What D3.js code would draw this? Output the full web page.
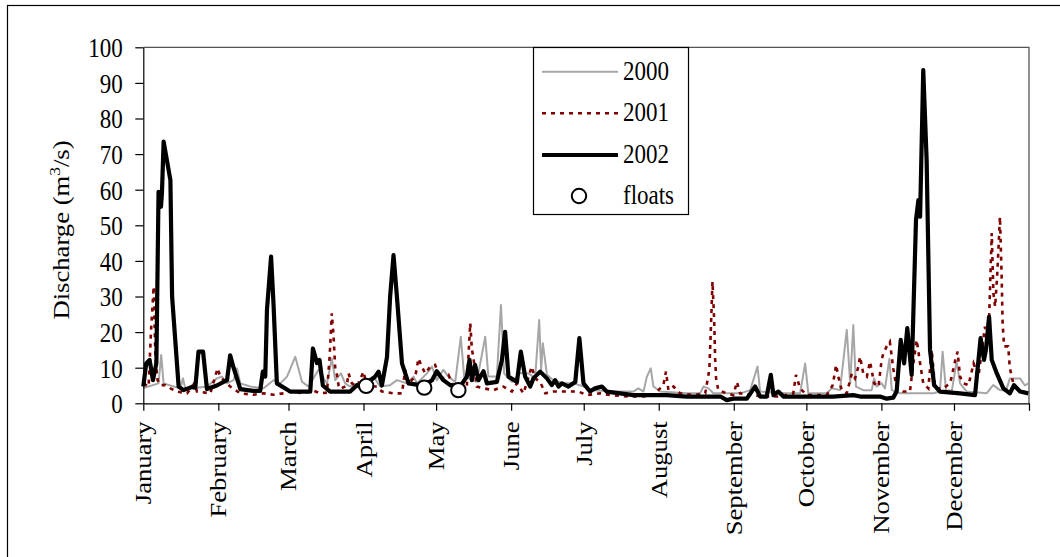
<!DOCTYPE html>
<html><head><meta charset="utf-8">
<script src="https://cdn.jsdelivr.net/npm/d3@7"></script>
<style>
html,body{margin:0;padding:0;background:#fff;}
svg{display:block;}
text{font-family:"Liberation Serif","Times New Roman",serif;fill:#000;}
</style></head>
<body>
<svg id="chart" width="1060" height="557"></svg>
<script>
// ---- data (day of year, value in m3/s) ----
const months = ["January","February","March","April","May","June","July","August","September","October","November","December"];
const monthStartDays = [0,31,60,91,121,152,182,213,244,274,305,335];
const yearEndDay = 366;
const yTicks = [0,10,20,30,40,50,60,70,80,90,100];
const seriesNames = ["2000","2001","2002","floats"];

const q2000 = [[0.1,4.3],[6.3,5.6],[7.4,13.6],[8.4,5.6],[12.5,4.7],[15.3,4.2],[16.4,7],[17.3,4.2],[20.8,4.2],[26.3,4.7],[30.4,7],[32.5,7.5],[34.6,5.6],[37.3,6.5],[38.7,9.8],[40.1,5.6],[44.2,4.7],[49.7,4.2],[53.8,6.5],[56.6,5.6],[59.4,7.5],[62.8,13.1],[65.6,6],[68.3,4.7],[72.4,9.4],[74.5,7],[75.9,5.6],[77.9,12.6],[79.3,6.5],[81.7,8.4],[83.4,5.6],[85.5,4.7],[91,6],[95.1,7.5],[97.9,4.7],[102,5.1],[104.8,6.5],[108.9,5.6],[111.7,7.5],[113.1,5.6],[117.2,8.4],[119.3,10.3],[121.3,6.5],[124,9.4],[126.1,7.5],[128.9,6],[131.2,18.7],[132.6,7.5],[137.8,6],[141.3,18.7],[142.6,7.5],[146.1,7.5],[147.8,27.6],[149.1,8.4],[152.3,6],[155.7,8.5],[159.2,8.4],[161.9,7],[163.6,23.4],[164.4,9.4],[165.1,16.9],[166.8,8],[169.5,6.5],[173.6,5.6],[177.8,5.6],[181.9,4.7],[186,3.7],[194.3,3.3],[202.5,3.3],[204.6,4.2],[206.7,3.3],[208.1,7.5],[209.7,9.8],[210.8,4.7],[213.6,3.3],[224.6,2.8],[230.1,2.8],[231.5,4.7],[233.5,4.2],[235.6,2.8],[246.7,2.8],[250.8,3.7],[253.8,10.3],[254.9,3.3],[265.9,2.8],[271.4,2.8],[273.5,11.2],[274.8,2.8],[282.4,2.8],[284.5,4.2],[287.9,3.7],[290.7,20.6],[292.1,5.6],[293.4,22],[294.5,4.7],[297.5,3.7],[301,3.7],[302,7],[303,4.7],[305.1,5.6],[306.5,4.2],[308.3,12.5],[309.3,3.7],[312.7,2.8],[318.2,2.8],[326.5,2.8],[329.2,3.3],[330.3,14.5],[331.7,3.7],[334.1,3.5],[336.1,11.7],[337.5,5.6],[340.3,3.3],[348.5,2.8],[351.2,5.1],[354,3.7],[356.5,3.5],[358.1,7],[362.3,7],[364.3,5],[365.7,5.6]];

const q2001 = [[0.1,5.6],[2.2,4.7],[3.2,20.6],[4.3,32.8],[5,12.6],[5.9,6.5],[7,5.1],[9.1,5.1],[11.2,4.2],[13.9,3.3],[18.1,2.8],[21.1,5.6],[22.2,3.3],[27.7,2.8],[30.7,9.8],[31.8,7.5],[33.9,6],[35.9,4.7],[40.1,2.8],[45.6,2.4],[49.7,2.8],[53.8,2.4],[58,2.8],[60.7,3.3],[66.2,2.8],[69.7,3.7],[73.1,2.8],[75.9,3],[77,13.1],[77.9,25.3],[78.6,19],[79.3,10],[80,8],[80.7,5],[81.4,4],[84.1,5],[84.8,8.4],[86.2,5.6],[88.3,4.7],[91,8.9],[92.4,4.7],[96.5,4.7],[98.6,3.3],[103.4,2.8],[106.9,2.8],[108.2,9.4],[109.6,5.6],[112.4,7.5],[113.7,12.6],[115.1,10.3],[116.5,8.4],[118.6,10.3],[120.6,10.8],[122.7,6.5],[126.1,8],[128.2,4.7],[133.7,4.7],[135.1,22.5],[135.8,15],[136.4,13],[137.8,4.7],[140.6,4.2],[144.7,3.7],[148.8,4.7],[152.3,3.3],[154.4,5.6],[157.1,2.8],[160.5,10.3],[161.9,7],[164,6],[166.1,2.8],[169.5,3.3],[175,3.3],[179.8,3.3],[183.3,2.3],[188.8,2.8],[192.9,2.3],[201.2,1.9],[206.7,1.9],[210.8,2.3],[214.9,5.1],[216,8.9],[217,3.7],[219.1,4.7],[221.8,2.8],[227.3,2.3],[232.2,2.8],[233.9,9.4],[234.5,20.1],[235.2,34.2],[235.9,23.4],[236.3,12.6],[236.7,7],[237.6,3.7],[241.1,2.8],[243.8,2.3],[245.3,6],[246.6,2.8],[250.8,2.3],[257.6,1.9],[263.1,1.9],[268.6,2.8],[269.7,8],[271.4,4.2],[274.2,2.3],[282.4,2.3],[284.9,5.1],[286.3,10.8],[287.2,7.5],[288.6,3.7],[290.7,2.8],[292.8,8.4],[294.1,7],[295.5,10.3],[296.2,13.1],[297.5,8.4],[299,7.5],[300.3,11.7],[302,5.6],[303.8,4.7],[305.1,12.2],[305.8,14],[307.2,16],[308.5,17.3],[309.9,9.8],[311.3,4.2],[314,3.3],[316.8,3.3],[318.2,11.2],[319.6,17.8],[321,11.2],[322.3,5.6],[324.4,4.2],[325.8,15],[327.2,4.2],[330.6,4.2],[333.4,5.6],[335.4,11.7],[336.5,14.5],[337.5,7.5],[338.9,5.6],[341,5.1],[343.1,11.2],[345.1,7.5],[347.8,21.5],[349.2,16.8],[350.6,47.8],[351.3,30.9],[352,27.1],[352.9,36.5],[354,52.4],[354.7,35.6],[355.1,22.5],[355.7,16],[357.4,16],[358.1,9.8],[359.5,5.6],[362.3,3.3],[365.7,3]];

const q2002 = [[0,4.7],[1.2,11.2],[2.6,12.2],[4,6.5],[5.4,11.3],[6.3,59.4],[7.3,55.2],[7.7,59],[8.4,73.5],[11.2,62.7],[11.9,30],[14.6,4.7],[16.6,3.7],[20.1,4.6],[21.5,4.4],[22.8,14.5],[24.7,14.5],[26.3,4],[30.4,5],[34.6,6.5],[35.9,13.5],[37.3,10],[40.1,4],[45.4,3.5],[48.3,3.5],[49.4,8.9],[50.4,7.5],[51.1,26.2],[52.8,41.2],[53.8,28],[55.2,5.6],[60.7,3.3],[69,3.3],[70.1,15.4],[71.8,11.3],[72.8,12.2],[74.2,5],[77.2,3.3],[85.5,3.3],[88.3,5.1],[90.3,4.4],[95.8,7.5],[97.2,8.9],[98.6,5],[100.7,13],[102,30],[103.4,41.6],[104.8,30],[106.9,11.2],[109.6,5.6],[114.4,5.1],[117.2,5.6],[119.3,6.5],[121.3,9],[124,6.5],[126.8,5.1],[131,4.8],[133.7,7.5],[134.8,12.2],[135.8,6.5],[137.1,10.8],[138.5,6.5],[140.6,9],[142,5.6],[146.1,6],[148.2,12.2],[149.5,20.1],[150.9,7.5],[154.4,6],[156,14.5],[157.8,7.5],[159.9,4.7],[161.2,7],[164,8.9],[166.8,7],[168.8,5.1],[170.2,6.5],[171.6,4.7],[173,5.6],[175.7,4.7],[178.5,6],[180.2,18.3],[181.9,5.6],[184.6,3.3],[186.7,4.2],[189.5,4.7],[191.5,3.3],[197,2.8],[202.5,2.3],[210.8,2.3],[216.3,2.3],[224.6,1.9],[238.5,1.9],[241.1,0.9],[243.8,1.3],[246.7,1.3],[249.4,1.3],[252.8,4.7],[254.9,1.9],[257.6,1.9],[259.3,8],[260.4,2.3],[262.4,3.3],[264.5,1.9],[271.4,1.9],[285.1,1.9],[293.4,2.3],[296.2,1.9],[304.4,1.9],[307.2,1.3],[309.9,1.6],[311.3,3.3],[313,17.8],[314.4,11.2],[315.7,21.1],[317.5,8],[319.3,51.5],[320.3,57.1],[321,52.4],[322.3,93.6],[323.7,68.3],[325.1,15],[326.8,5.1],[329.2,3.3],[337.5,2.8],[343.7,2.3],[346,18.3],[347.4,12.2],[348.2,15],[349.5,24.3],[350.6,12.2],[352.7,8.4],[355.4,4.2],[358.1,2.8],[359.8,5.1],[362.3,3.3],[365.7,2.8]];

const floats = [[92.1,4.9],[116.1,4.4],[130.2,3.7]];

// ---- drawing ----
const svg = d3.select("#chart");
const SY = 1.16; // vertical stretch of the original picture's text
const plotL = 143.3, plotR = 1029, plotT = 47.3, plotB = 403.3;
const x = d3.scaleLinear().domain([0, yearEndDay]).range([plotL, plotR]);
const y = d3.scaleLinear().domain([0, 100]).range([plotB, plotT]);

// outer chart frame
svg.append("rect").attr("x",7.5).attr("y",5.5).attr("width",1100).attr("height",700)
  .attr("fill","none").attr("stroke","#000").attr("stroke-width",1.2);

// plot area frame (top and right)
svg.append("path").attr("d",`M${plotL},${plotT}H${plotR}V${plotB}`)
  .attr("fill","none").attr("stroke","#555").attr("stroke-width",1.3);

const line = d3.line().x(d=>x(d[0])).y(d=>y(d[1]));

svg.append("path").datum(q2000).attr("d",line).attr("fill","none")
  .attr("stroke","#a6a6a6").attr("stroke-width",2).attr("stroke-linejoin","round");
svg.append("path").datum(q2001).attr("d",line).attr("fill","none")
  .attr("stroke","#800000").attr("stroke-width",2.6).attr("stroke-dasharray","4,5");
svg.append("path").datum(q2002).attr("d",line).attr("fill","none")
  .attr("stroke","#000").attr("stroke-width",4.2).attr("stroke-linejoin","round");

svg.selectAll("circle.fl").data(floats).enter().append("circle").attr("class","fl")
  .attr("cx",d=>x(d[0])).attr("cy",d=>y(d[1])).attr("r",7.2)
  .attr("fill","#fff").attr("stroke","#000").attr("stroke-width",2);

// y axis
const gy = svg.append("g").attr("transform",`translate(${plotL},0)`)
  .call(d3.axisLeft(y).tickValues(yTicks).tickSize(8).tickSizeOuter(0).tickFormat(d=>d));
gy.select(".domain").attr("stroke","#000").attr("stroke-width",1.2);
gy.selectAll(".tick line").attr("stroke","#000").attr("stroke-width",1.2);
gy.selectAll(".tick text").attr("x",null).attr("dy",null)
  .attr("transform",`translate(-20.5,9.3) scale(1,${SY})`)
  .attr("text-anchor","end").style("font-size","23px").attr("font-family",null).attr("font-size",null).attr("fill","#000");
gy.attr("font-family",null).attr("font-size",null);

// x axis
const gx = svg.append("g").attr("transform",`translate(0,${plotB})`)
  .call(d3.axisBottom(x).tickValues(monthStartDays.concat([yearEndDay])).tickSize(7.5).tickSizeOuter(0)
    .tickFormat(d=>{const i = monthStartDays.indexOf(d); return i>=0 ? months[i] : "";}));
gx.select(".domain").attr("stroke","#000").attr("stroke-width",1.2);
gx.selectAll(".tick line").attr("stroke","#000").attr("stroke-width",1.2);
gx.selectAll(".tick text").attr("y",null).attr("dy",null)
  .attr("transform",`translate(7.5,18) scale(1,${SY}) rotate(-90)`)
  .attr("text-anchor","end").style("font-size","23px").attr("fill","#000");
gx.attr("font-family",null).attr("font-size",null);

// y axis title
const yt = svg.append("text").attr("transform",`translate(69,230) scale(1,${SY}) rotate(-90)`)
  .attr("text-anchor","middle").style("font-size","23px");
yt.append("tspan").text("Discharge (m");
yt.append("tspan").attr("dy",-9).style("font-size","15px").text("3");
yt.append("tspan").attr("dy",9).text("/s)");

// legend
const lg = svg.append("g");
lg.append("rect").attr("x",533.5).attr("y",47.5).attr("width",155).attr("height",167)
  .attr("fill","#fff").attr("stroke","#000").attr("stroke-width",1.2);
const legendRows = [
  {name:seriesNames[0], y:71.7, stroke:"#a6a6a6", w:2, dash:null},
  {name:seriesNames[1], y:113.3, stroke:"#800000", w:2.6, dash:"4,5"},
  {name:seriesNames[2], y:155, stroke:"#000", w:4.2, dash:null}
];
legendRows.forEach(r=>{
  lg.append("line").attr("x1",542).attr("x2",618).attr("y1",r.y).attr("y2",r.y)
    .attr("stroke",r.stroke).attr("stroke-width",r.w).attr("stroke-dasharray",r.dash);
  lg.append("text").attr("transform",`translate(623,${r.y+7.8}) scale(1,${SY})`)
    .style("font-size","23px").text(r.name);
});
lg.append("circle").attr("cx",579).attr("cy",196).attr("r",7.2)
  .attr("fill","#fff").attr("stroke","#000").attr("stroke-width",2);
lg.append("text").attr("transform",`translate(623,203.5) scale(1,${SY})`)
  .style("font-size","23px").text(seriesNames[3]);
</script>
</body></html>
